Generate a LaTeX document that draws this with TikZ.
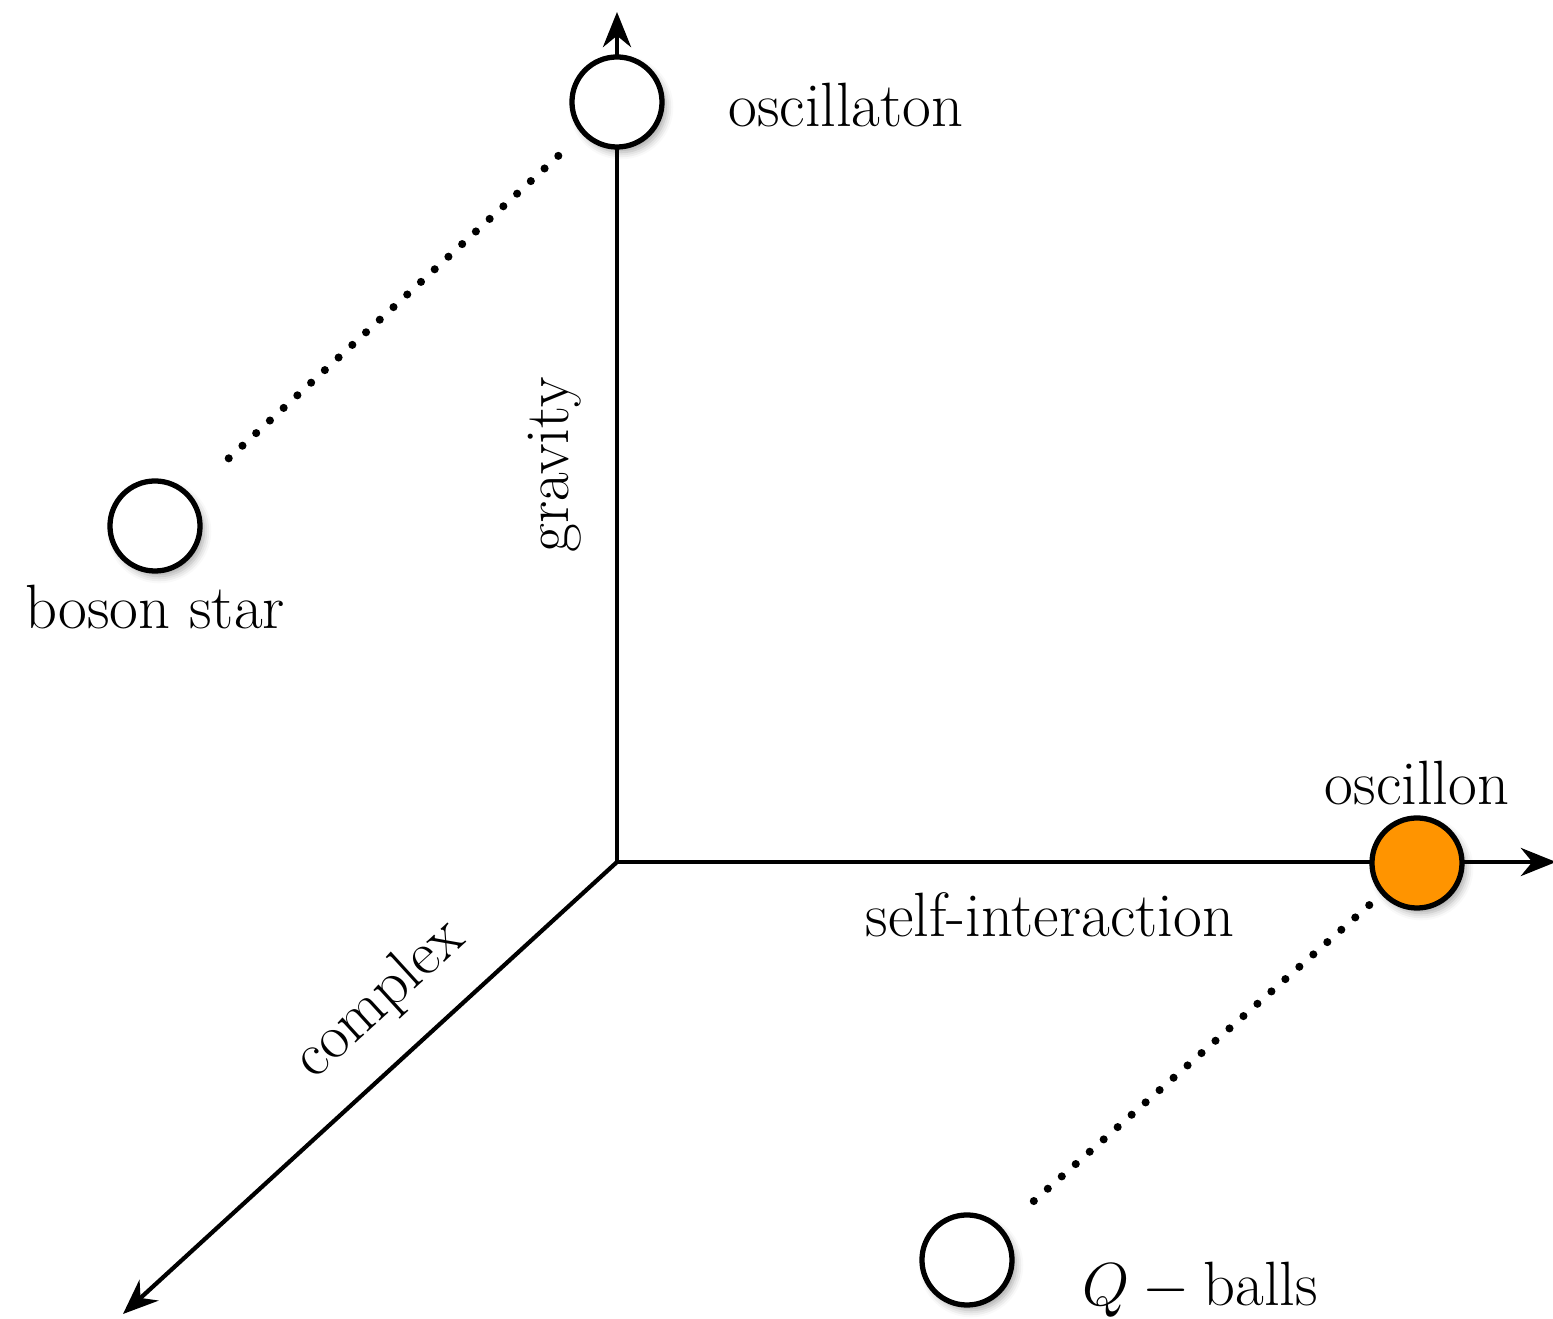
\documentclass[tikz,border=0pt]{standalone}
\usepackage{amsmath}
\usepackage{tikz}
\usetikzlibrary{arrows.meta, shadows.blur}

\definecolor{oscorange}{RGB}{255,148,0}

\tikzset{
    axis/.style={line width=1.2pt, -{Stealth[length=10pt, width=8pt]}},
    soliton/.style={circle, draw, line width=1.5pt, fill=white, minimum size=0.9cm, inner sep=0pt,
        blur shadow={shadow xshift=1.2pt, shadow yshift=-1.5pt, shadow blur radius=2pt, shadow opacity=35}},
    link/.style={line width=2.3pt, line cap=round, dash pattern=on 0pt off 5.3pt},
    lbl/.style={font=\fontsize{17.8}{21}\selectfont}
}

\begin{document}
\begin{tikzpicture}[x=0.01cm, y=-0.01cm]
    \useasboundingbox (0,0) rectangle (1553,1319);

    % Axes
    \coordinate (O) at (617,862);
    \coordinate (gtip) at (617,12);
    \coordinate (stip) at (1556,862);
    \coordinate (ctip) at (123,1314);
    \draw[axis] (O) -- (gtip);
    \draw[axis] (O) -- (stip);
    \draw[axis] (O) -- (ctip);

    \node[lbl, rotate=90] (gravity) at (555,465) {gravity};
    \node[lbl] (selfint) at (1050,915) {self-interaction};
    \node[lbl, rotate=42.4] (complex) at (380,1000) {complex};

    % Objects
    \node[soliton] (osc) at (617,102) {};
    \node[soliton] (bos) at (155,526) {};
    \node[soliton, fill=oscorange] (oscn) at (1417,863) {};
    \node[soliton] (qball) at (967,1260) {};

    \node[lbl] (osclbl) at (846,105) {oscillaton};
    \node[lbl] (boslbl) at (155,607) {boson star};
    \node[lbl] (oscnlbl) at (1417,783) {oscillon};
    \node[lbl] (qlbl) at (1200,1290) {$Q - \text{balls}$};

    % Dotted links
    \draw[link, shorten <=0.32cm, shorten >=0.46cm] (osc) -- (bos);
    \draw[link, shorten <=0.16cm, shorten >=0.34cm] (oscn) -- (qball);
\end{tikzpicture}
\end{document}
